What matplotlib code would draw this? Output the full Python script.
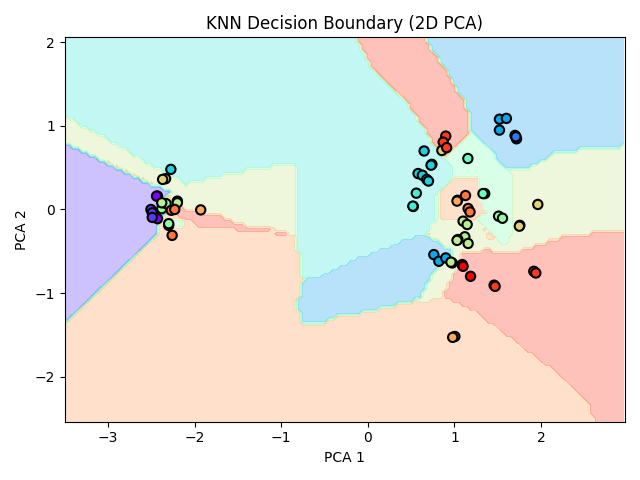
import numpy as np
import matplotlib
matplotlib.use('Agg')
import matplotlib.pyplot as plt
from matplotlib.path import Path

# PCA coordinates, one group per class
pca1 = [-2.43, -2.43, -2.44,
        -2.505, -2.49, -2.49,
        1.70, 1.717, 1.71,
        1.52, 1.60, 1.52, 0.762, 0.82, 0.90,
        -2.275, 0.65, 0.74, 0.73, 0.58, 0.63, 0.68, 0.70,
        0.56, 0.525, 0.52,
        1.155, 1.35, 1.33,
        1.51, 1.555, -2.38, -2.33, -2.30, -2.30,
        -2.38, -2.20, -2.20, 1.10, 1.147, 1.12, 1.04, 1.03, 1.158, 0.974, 0.96,
        -2.336, -2.37, 0.855, 1.963, 1.755, 1.75,
        -1.93, 1.036, 1.03, 1.005, 0.98,
        1.128, 1.158, 1.18, -2.27, -2.23, -2.26,
        0.90, 0.87, 0.91, 1.917, 1.94, 1.458, 1.47,
        1.09, 1.10, 1.186]
pca2 = [0.16, -0.11, 0.16,
        0.0, -0.04, -0.095,
        0.886, 0.846, 0.87,
        1.08, 1.09, 0.95, -0.54, -0.62, -0.58,
        0.48, 0.70, 0.54, 0.53, 0.43, 0.41, 0.36, 0.34,
        0.195, 0.036, 0.04,
        0.61, 0.19, 0.19,
        -0.08, -0.105, 0.01, 0.07, -0.19, -0.17,
        0.08, 0.10, 0.08, -0.14, -0.18, -0.327, -0.36, -0.37, -0.407, -0.64, -0.63,
        0.368, 0.36, 0.706, 0.06, -0.19, -0.20,
        -0.005, 0.11, 0.10, -1.52, -1.53,
        0.167, 0.012, -0.03, -0.01, 0.0, -0.31,
        0.878, 0.806, 0.74, -0.74, -0.76, -0.906, -0.92,
        -0.66, -0.68, -0.80]
labels = [0, 0, 0,
          1, 1, 1,
          2, 2, 2,
          3, 3, 3, 3, 3, 3,
          4, 4, 4, 4, 4, 4, 4, 4,
          5, 5, 5,
          6, 6, 6,
          7, 7, 7, 7, 7, 7,
          8, 8, 8, 8, 8, 8, 8, 8, 8, 8, 8,
          9, 9, 9, 9, 9, 9,
          10, 10, 10, 10, 10,
          11, 11, 11, 11, 11, 11,
          12, 12, 12, 12, 12, 12, 12,
          13, 13, 13]

# predicted class regions, outlines (later ones lie on top)
yellow_left = [(-3.6, 1.17), (-3.21, 0.96), (-2.81, 0.72), (-2.49, 0.51), (-2.23, 0.40), (-2.09, 0.30),
               (-1.85, 0.36), (-1.54, 0.44), (-1.27, 0.48), (-0.96, 0.54), (-0.82, 0.54), (-0.82, -0.36),
               (-0.96, -0.26), (-1.15, -0.23), (-1.50, -0.18), (-1.88, -0.10), (-2.15, 0.0), (-2.29, 0.12),
               (-2.29, 0.22), (-3.6, 0.85)]
yellow_mid = [(0.75, -0.14), (1.26, -0.12), (1.41, -0.36), (1.64, -0.42), (1.67, -0.16), (1.67, 0.12),
              (1.70, 0.40), (1.61, 0.48), (1.79, 0.46), (1.99, 0.57), (2.18, 0.69), (2.56, 0.72), (3.1, 0.78), (3.1, -0.22),
              (2.22, -0.34), (2.07, -0.40), (1.79, -0.48), (1.61, -0.54), (1.41, -0.48), (1.10, -0.51),
              (1.00, -0.75), (0.85, -1.05), (0.60, -1.14), (0.58, -1.08), (0.66, -0.92), (0.77, -0.74),
              (0.97, -0.56), (0.97, -0.50), (0.87, -0.42), (0.69, -0.32)]
mint_mid = [(0.87, 0.62), (0.95, 0.66), (1.19, 0.93), (1.49, 0.62), (1.61, 0.48), (1.70, 0.40), (1.67, 0.12),
            (1.67, -0.16), (1.64, -0.40), (1.52, -0.40), (1.41, -0.30), (1.26, -0.14), (0.77, -0.12),
            (0.77, 0.16), (0.97, 0.36), (0.98, 0.50)]
mint_left = [(-2.34, -0.10), (-2.11, -0.10), (-2.11, -0.20), (-2.34, -0.20)]
peach_mid = [(0.89, 0.36), (1.25, 0.36), (1.26, 0.16), (1.37, -0.04), (1.26, -0.10), (0.81, -0.10), (0.81, 0.16)]
turquoise = [(-3.6, 2.2), (-0.2, 2.2), (0.08, 1.65), (0.43, 1.32), (0.69, 0.90), (0.80, 0.72), (0.87, 0.62),
             (0.98, 0.50), (0.97, 0.36), (0.77, 0.16), (0.77, -0.12), (0.68, -0.28), (0.37, -0.40), (0.14, -0.48),
             (-0.18, -0.62), (-0.40, -0.74), (-0.59, -0.83), (-0.75, -0.84), (-0.82, -0.36), (-0.82, 0.54),
             (-0.96, 0.54), (-1.27, 0.48), (-1.54, 0.44), (-1.85, 0.36), (-2.09, 0.30), (-2.23, 0.40),
             (-2.49, 0.51), (-2.81, 0.72), (-3.21, 0.96), (-3.6, 1.17)]
sky_top = [(0.57, 2.2), (3.1, 2.2), (3.1, 0.78), (2.56, 0.72), (2.18, 0.69), (1.99, 0.57), (1.79, 0.46),
           (1.61, 0.48), (1.49, 0.62), (1.20, 0.93), (1.18, 1.08), (1.10, 1.32), (0.89, 1.68)]
sky_low = [(-0.75, -0.84), (-0.59, -0.83), (-0.40, -0.74), (-0.18, -0.62), (0.14, -0.48), (0.37, -0.40),
           (0.68, -0.28), (0.69, -0.32), (0.87, -0.42), (0.97, -0.50), (0.97, -0.56), (0.77, -0.74), (0.66, -0.92),
           (0.58, -1.08), (0.31, -1.14), (0.10, -1.20), (-0.15, -1.26), (-0.36, -1.29), (-0.58, -1.38),
           (-0.79, -1.38), (-0.81, -1.08)]
red_top = [(-0.2, 2.2), (0.57, 2.2), (0.89, 1.68), (1.10, 1.32), (1.18, 1.08), (1.19, 0.93), (0.95, 0.66),
           (0.83, 0.63), (0.80, 0.72), (0.69, 0.90), (0.43, 1.32), (0.08, 1.65)]
red_low = [(1.10, -0.51), (1.41, -0.48), (1.61, -0.54), (1.79, -0.48), (2.07, -0.40), (2.22, -0.34), (3.1, -0.22),
           (3.1, -2.7), (2.66, -2.7), (2.56, -2.34), (2.22, -1.98), (1.79, -1.65), (1.49, -1.41), (1.29, -1.26),
           (1.14, -1.16), (0.85, -1.05), (1.00, -0.75)]
red_band = [(-2.31, 0.0), (-2.15, 0.02), (-1.88, -0.06), (-1.69, -0.07), (-1.50, -0.18), (-1.15, -0.23),
            (-1.15, -0.28), (-1.54, -0.24), (-1.96, -0.23), (-2.08, -0.10), (-2.26, -0.08)]
red_spot = [(-1.10, -0.28), (-0.94, -0.28), (-0.94, -0.33), (-1.10, -0.33)]
purple = [(-3.6, 0.85), (-3.12, 0.60), (-2.84, 0.46), (-2.54, 0.32), (-2.29, 0.22), (-2.37, 0.12), (-2.34, -0.02),
          (-2.40, -0.16), (-2.44, -0.28), (-2.75, -0.60), (-3.6, -1.44)]

regions = [yellow_left, yellow_mid, mint_mid, mint_left, peach_mid, turquoise, sky_top, sky_low,
           red_top, red_low, red_band, red_spot, purple]
region_class = [9, 9, 7, 7, 11, 5, 3, 3, 13, 13, 13, 13, 1]
background_class = 11

xx, yy = np.meshgrid(np.arange(-3.5, 3.0, 0.05), np.arange(-2.54, 2.08, 0.05))
grid = np.c_[xx.ravel(), yy.ravel()]
Z = np.full(len(grid), background_class)
for outline, cls in zip(regions, region_class):
    Z[Path(outline).contains_points(grid)] = cls
Z = Z.reshape(xx.shape)

plt.figure(figsize=(6.4, 4.8))
plt.contourf(xx, yy, Z, levels=np.arange(0, 15, 2), alpha=0.3, cmap='rainbow')
plt.scatter(pca1, pca2, c=labels, cmap='rainbow', edgecolors='k', s=45, linewidths=1.5)
plt.xlim(-3.5, 2.97)
plt.ylim(-2.54, 2.06)
plt.title('KNN Decision Boundary (2D PCA)')
plt.xlabel('PCA 1')
plt.ylabel('PCA 2')
plt.tight_layout()
plt.savefig('out.png')
